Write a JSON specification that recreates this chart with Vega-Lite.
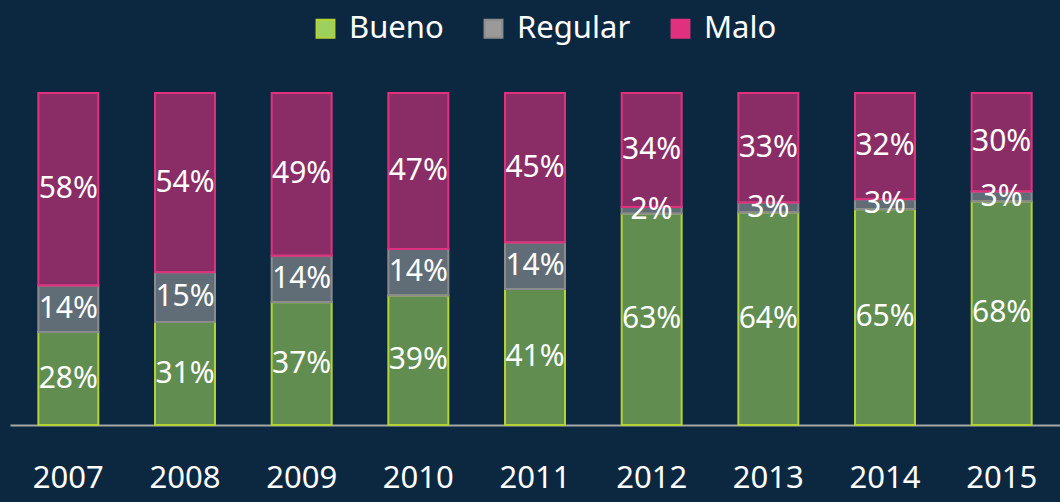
{
  "$schema": "https://vega.github.io/schema/vega-lite/v6.json",
  "width": 1050,
  "height": 332,
  "autosize": {"type": "none"},
  "padding": {"left": 10, "top": 93, "right": 0, "bottom": 77},
  "background": "#0c2841",
  "config": {
    "view": {"stroke": null},
    "font": "Noto Sans"
  },
  "data": {
    "values": [
      {"year": "2007", "cat": "Bueno", "value": 28, "label": "28%", "order": 1},
      {"year": "2007", "cat": "Regular", "value": 14, "label": "14%", "order": 2},
      {"year": "2007", "cat": "Malo", "value": 58, "label": "58%", "order": 3},
      {"year": "2008", "cat": "Bueno", "value": 31, "label": "31%", "order": 1},
      {"year": "2008", "cat": "Regular", "value": 15, "label": "15%", "order": 2},
      {"year": "2008", "cat": "Malo", "value": 54, "label": "54%", "order": 3},
      {"year": "2009", "cat": "Bueno", "value": 37, "label": "37%", "order": 1},
      {"year": "2009", "cat": "Regular", "value": 14, "label": "14%", "order": 2},
      {"year": "2009", "cat": "Malo", "value": 49, "label": "49%", "order": 3},
      {"year": "2010", "cat": "Bueno", "value": 39, "label": "39%", "order": 1},
      {"year": "2010", "cat": "Regular", "value": 14, "label": "14%", "order": 2},
      {"year": "2010", "cat": "Malo", "value": 47, "label": "47%", "order": 3},
      {"year": "2011", "cat": "Bueno", "value": 41, "label": "41%", "order": 1},
      {"year": "2011", "cat": "Regular", "value": 14, "label": "14%", "order": 2},
      {"year": "2011", "cat": "Malo", "value": 45, "label": "45%", "order": 3},
      {"year": "2012", "cat": "Bueno", "value": 63, "label": "63%", "order": 1},
      {"year": "2012", "cat": "Regular", "value": 2, "label": "2%", "order": 2},
      {"year": "2012", "cat": "Malo", "value": 34, "label": "34%", "order": 3},
      {"year": "2013", "cat": "Bueno", "value": 64, "label": "64%", "order": 1},
      {"year": "2013", "cat": "Regular", "value": 3, "label": "3%", "order": 2},
      {"year": "2013", "cat": "Malo", "value": 33, "label": "33%", "order": 3},
      {"year": "2014", "cat": "Bueno", "value": 65, "label": "65%", "order": 1},
      {"year": "2014", "cat": "Regular", "value": 3, "label": "3%", "order": 2},
      {"year": "2014", "cat": "Malo", "value": 32, "label": "32%", "order": 3},
      {"year": "2015", "cat": "Bueno", "value": 68, "label": "68%", "order": 1},
      {"year": "2015", "cat": "Regular", "value": 3, "label": "3%", "order": 2},
      {"year": "2015", "cat": "Malo", "value": 30, "label": "30%", "order": 3}
    ]
  },
  "transform": [
    {"stack": "value", "groupby": ["year"], "sort": [{"field": "order"}], "offset": "normalize", "as": ["v0", "v1"]},
    {"calculate": "(datum.v0 + datum.v1) / 2", "as": "vmid"}
  ],
  "encoding": {
    "x": {
      "field": "year", "type": "nominal", "title": null,
      "scale": {"paddingInner": 0.486, "paddingOuter": 0.243},
      "axis": {
        "labelAngle": 0, "labelColor": "#ffffff", "labelFontSize": 31, "labelFont": "Noto Sans",
        "labelPadding": 38, "ticks": false, "domainColor": "#a6a6a6", "domainWidth": 2, "grid": false
      }
    }
  },
  "layer": [
    {
      "mark": {"type": "bar", "strokeWidth": 2, "fillOpacity": 0.6},
      "encoding": {
        "y": {"field": "v0", "type": "quantitative", "scale": {"domain": [0, 1]}, "axis": null},
        "y2": {"field": "v1"},
        "fill": {
          "field": "cat", "type": "nominal",
          "scale": {"domain": ["Bueno", "Regular", "Malo"], "range": ["#9dd05c", "#9a9a9a", "#e0317f"]},
          "legend": {
            "orient": "none", "direction": "horizontal", "legendX": 300, "legendY": -80, "title": null,
            "labelColor": "#ffffff", "labelFontSize": 31, "labelFont": "Noto Sans", "labelOffset": 8,
            "symbolType": "square", "symbolSize": 320, "symbolStrokeWidth": 2, "symbolFillOpacity": 0.6,
            "columnPadding": 34
          }
        },
        "stroke": {
          "field": "cat", "type": "nominal",
          "scale": {"domain": ["Bueno", "Regular", "Malo"], "range": ["#b5d334", "#8c8c8c", "#e0317f"]},
          "legend": {
            "orient": "none", "direction": "horizontal", "legendX": 300, "legendY": -80, "title": null,
            "labelColor": "#ffffff", "labelFontSize": 31, "labelFont": "Noto Sans", "labelOffset": 8,
            "symbolType": "square", "symbolSize": 320, "symbolStrokeWidth": 2, "symbolFillOpacity": 0.6,
            "columnPadding": 34
          }
        }
      }
    },
    {
      "mark": {"type": "text", "color": "#ffffff", "fontSize": 30, "font": "Noto Sans", "baseline": "middle"},
      "encoding": {
        "y": {"field": "vmid", "type": "quantitative", "scale": {"domain": [0, 1]}, "axis": null},
        "text": {"field": "label", "type": "nominal"}
      }
    }
  ]
}
